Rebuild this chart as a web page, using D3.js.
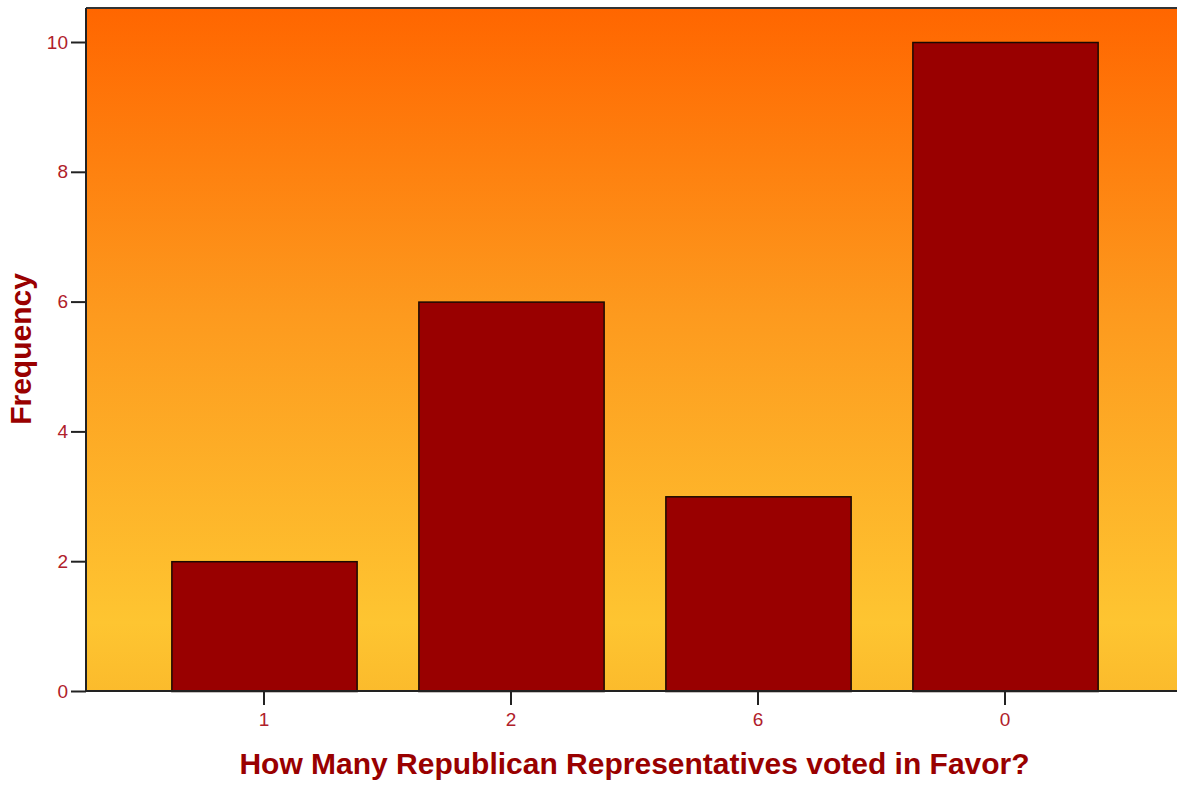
<!DOCTYPE html>
<html>
<head>
<meta charset="utf-8">
<script src="https://cdn.jsdelivr.net/npm/d3@7"></script>
<style>
  html, body { margin: 0; padding: 0; background: #fff; }
  svg { display: block; }
  text { font-family: "Liberation Sans", Arial, sans-serif; }
</style>
</head>
<body>
<svg id="chart" width="1177" height="787"></svg>
<script>
const categories = ["1", "2", "6", "0"];
const frequencies = [2, 6, 3, 10];
const yTicks = [0, 2, 4, 6, 8, 10];
const xTitle = "How Many Republican Representatives voted in Favor?";
const yTitle = "Frequency";

const W = 1177, H = 787;
const plot = { left: 86, top: 8, right: 1183, bottom: 691 };

const svg = d3.select("#chart");
const defs = svg.append("defs");
const grad = defs.append("linearGradient")
  .attr("id", "bg").attr("x1", 0).attr("y1", 0).attr("x2", 0).attr("y2", 1);
[[0, "#ff6600"], [0.45, "#fd9a1e"], [0.9, "#fec531"], [1, "#fbbb2c"]]
  .forEach(([o, c]) => grad.append("stop").attr("offset", o).attr("stop-color", c));

const x = d3.scaleBand()
  .domain(categories)
  .range([plot.left, plot.right])
  .paddingInner(0.25)
  .paddingOuter(0.3456);

const y = d3.scaleLinear()
  .domain([0, 10])
  .range([plot.bottom, 42]);

// background
svg.append("rect")
  .attr("x", plot.left).attr("y", plot.top)
  .attr("width", plot.right - plot.left + 10)
  .attr("height", plot.bottom - plot.top)
  .attr("fill", "url(#bg)");

// top frame line
svg.append("line")
  .attr("x1", plot.left).attr("x2", W)
  .attr("y1", plot.top).attr("y2", plot.top)
  .attr("stroke", "#333").attr("stroke-width", 2);

// bars
svg.append("g").selectAll("rect")
  .data(categories.map((c, i) => ({ c, v: frequencies[i] })))
  .join("rect")
  .attr("x", d => x(d.c) + 0.5)
  .attr("y", d => y(d.v) + 0.5)
  .attr("width", x.bandwidth())
  .attr("height", d => plot.bottom - y(d.v))
  .attr("fill", "#990000")
  .attr("stroke", "#1a0a00")
  .attr("stroke-width", 1.5);

// y axis
const yAxis = svg.append("g")
  .attr("transform", `translate(${plot.left},0)`)
  .call(d3.axisLeft(y).tickValues(yTicks).tickFormat(d3.format("d")).tickSize(15).tickPadding(3));
yAxis.select(".domain").attr("stroke", "#222").attr("stroke-width", 2)
  .attr("d", `M0,${plot.top}V${plot.bottom}`);
yAxis.selectAll(".tick line").attr("stroke", "#222").attr("stroke-width", 2);
yAxis.selectAll(".tick text")
  .attr("fill", "#b0202a").style("font-size", "19px")
  .style("font-family", "'Liberation Sans', Arial, sans-serif");

// x axis
const xAxis = svg.append("g")
  .attr("transform", `translate(0,${plot.bottom})`)
  .call(d3.axisBottom(x).tickSize(14).tickPadding(8));
xAxis.select(".domain").attr("stroke", "#222").attr("stroke-width", 2)
  .attr("d", `M${plot.left},0H${W}`);
xAxis.selectAll(".tick line").attr("stroke", "#222").attr("stroke-width", 2);
xAxis.selectAll(".tick text")
  .attr("fill", "#b0202a").style("font-size", "19px")
  .style("font-family", "'Liberation Sans', Arial, sans-serif");

// titles
svg.append("text")
  .attr("x", (plot.left + plot.right) / 2)
  .attr("y", 774)
  .attr("text-anchor", "middle")
  .attr("fill", "#990000")
  .style("font-size", "30px").style("font-weight", "bold")
  .text(xTitle);

svg.append("text")
  .attr("transform", `translate(31,349) rotate(-90)`)
  .attr("text-anchor", "middle")
  .attr("fill", "#990000")
  .style("font-size", "30px").style("font-weight", "bold")
  .text(yTitle);
</script>
</body>
</html>
